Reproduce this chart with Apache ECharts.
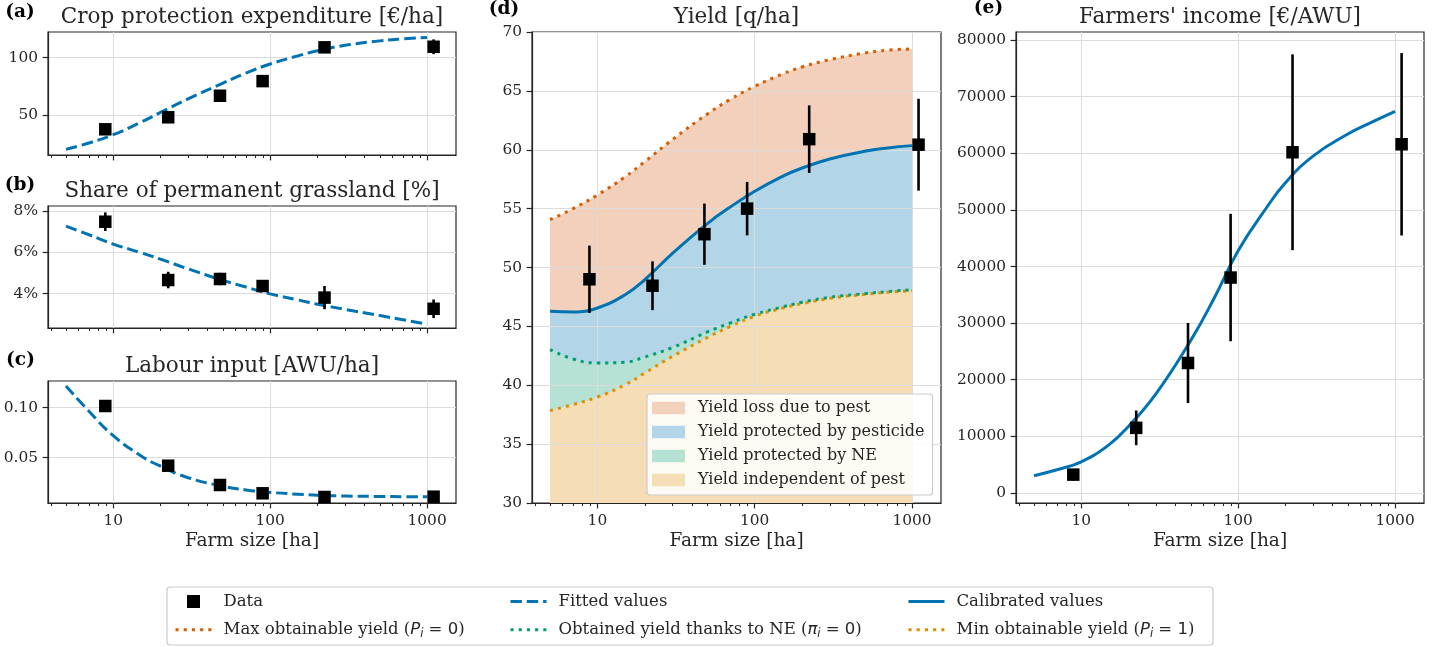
<!DOCTYPE html>
<html>
<head>
<meta charset="utf-8">
<script src="https://cdn.jsdelivr.net/npm/echarts@6/dist/echarts.min.js"></script>
<style>html,body{margin:0;padding:0;background:#fff}#c{width:1451px;height:647px}</style>
</head>
<body>
<div id="c"></div>
<script>
// ---------------- data ----------------
const farmSizes = [8.9, 22.4, 47.9, 89.5, 222, 1100];
const curveX = [5, 7, 10, 15, 20, 30, 50, 70, 100, 150, 200, 300, 500, 700, 1000];

const cropData = [37.9, 48.3, 67, 79.7, 109, 109.5];
const cropErr = [2.5, 2.5, 3, 3, 2.5, 6.4];
const cropFit = [20.5, 26.0, 33.2, 44.0, 52.5, 64.3, 78.0, 86.6, 94.5, 101.6, 106.0, 110.8, 114.6, 116.3, 117.6];

const grassData = [7.48, 4.66, 4.71, 4.37, 3.81, 3.27];
const grassErr = [0.45, 0.4, 0.3, 0.15, 0.56, 0.45];
const grassFit = [7.27, 6.85, 6.40, 5.98, 5.67, 5.2, 4.64, 4.32, 3.99, 3.70, 3.49, 3.24, 2.94, 2.74, 2.53];

const labourData = [0.1017, 0.042, 0.0227, 0.0144, 0.0107, 0.011];
const labourErr = [0.002, 0.002, 0.002, 0.001, 0.001, 0.001];
const labourFit = [0.1217, 0.0965, 0.0720, 0.0520, 0.0415, 0.0300, 0.0215, 0.0178, 0.0153, 0.0135, 0.0125, 0.0117, 0.0112, 0.0110, 0.0109];

const yieldData = [49.0, 48.45, 52.83, 55.0, 60.9, 60.43];
const yieldErr = [2.86, 2.07, 2.6, 2.27, 2.87, 3.9];
const yieldMax = [54.06, 55.0, 56.16, 57.7, 58.99, 60.86, 63.04, 64.28, 65.39, 66.43, 67.03, 67.65, 68.22, 68.46, 68.56];
const yieldCal = [46.28, 46.22, 46.56, 47.69, 48.96, 51.2, 53.73, 55.14, 56.47, 57.74, 58.45, 59.22, 59.87, 60.15, 60.35];
const yieldNE = [43.03, 42.23, 41.89, 41.95, 42.4, 43.2, 44.53, 45.29, 46.03, 46.65, 47.05, 47.47, 47.78, 47.95, 48.12];
const yieldMin = [37.85, 38.36, 39.0, 40.05, 41.04, 42.45, 44.05, 45.0, 45.86, 46.55, 46.93, 47.38, 47.72, 47.9, 48.04];

const incomeData = [3240, 11500, 22960, 38050, 60180, 61590];
const incomeErr = [1000, 3060, 7070, 11250, 17290, 16110];
const incomeCal = [3050, 4100, 5500, 8500, 11750, 17560, 27000, 34300, 42800, 50200, 54800, 59500, 63400, 65400, 67400];

const xMajorTicks = [10, 100, 1000];
const xMinorTicks = [4, 5, 6, 7, 8, 9, 20, 30, 40, 50, 60, 70, 80, 90, 200, 300, 400, 500, 600, 700, 800, 900];
const cropTicks = [50, 100];
const grassTicks = [4, 6, 8];
const labourTicks = [0.05, 0.10];
const yieldTicks = [30, 35, 40, 45, 50, 55, 60, 65, 70];
const incomeTicks = [0, 10000, 20000, 30000, 40000, 50000, 60000, 70000, 80000];

const panelTitles = ['Crop protection expenditure [€/ha]', 'Share of permanent grassland [%]', 'Labour input [AWU/ha]', 'Yield [q/ha]', "Farmers' income [€/AWU]"];
const panelLetters = ['(a)', '(b)', '(c)', '(d)', '(e)'];
const xLabel = 'Farm size [ha]';
const yieldAreaNames = ['Yield loss due to pest', 'Yield protected by pesticide', 'Yield protected by NE', 'Yield independent of pest'];
const NAME_MAX = 'Max obtainable yield (P_i = 0)';
const NAME_NE = 'Obtained yield thanks to NE (π_i = 0)';
const NAME_MIN = 'Min obtainable yield (P_i = 1)';

// ---------------- style ----------------
const FONT = 'DejaVu Serif';
const INK = '#262626';
const GRIDC = '#dcdcdc';
const BLUE = '#0173b2';
const RED = '#d55e00';
const GREEN = '#029e73';
const YEL = '#de8f05';
const F_RED = '#f2d0bc', F_BLUE = '#b3d5e8', F_GREEN = '#b6e2d5', F_YEL = '#f5deb6';
const XMIN = 3.84, XMAX = 1528;
const SMOOTH = 0.45;

const grids = [
  {left: 48, top: 32, width: 408, height: 123},
  {left: 48, top: 206, width: 408, height: 122},
  {left: 48, top: 381, width: 408, height: 122},
  {left: 532, top: 32, width: 409, height: 471},
  {left: 1016, top: 32, width: 408, height: 471}
].map(g => Object.assign({show: true, borderColor: INK, borderWidth: 1.2, backgroundColor: 'transparent', containLabel: false, outerBoundsMode: 'none'}, g));

const yRanges = [[15.6, 122.3], [2.34, 8.24], [0.0047, 0.1267], [30, 70], [-1770, 81420]];
const yTickSets = [cropTicks, grassTicks, labourTicks, yieldTicks, incomeTicks];
const yFormatters = [v => String(v), v => v + '%', v => v.toFixed(2), v => String(v), v => String(v)];

const tickFont = {fontFamily: FONT, fontSize: 15.4, color: INK};

const xAxes = [];
for (let i = 0; i < 5; i++) {
  xAxes.push({
    type: 'log', logBase: 10, gridIndex: i, min: XMIN, max: XMAX, position: 'bottom', z: 2,
    axisLine: {show: true, onZero: false, lineStyle: {color: INK, width: 1.2}},
    axisTick: {show: true, inside: false, length: 5.4, customValues: xMajorTicks, lineStyle: {color: INK, width: 1.2}},
    axisLabel: Object.assign({show: i >= 2, customValues: xMajorTicks, margin: 10, formatter: v => String(Math.round(v))}, tickFont),
    splitLine: {show: true, lineStyle: {color: GRIDC, width: 1}},
    minorTick: {show: false}, minorSplitLine: {show: false}
  });
  xAxes.push({
    type: 'log', logBase: 10, gridIndex: i, min: XMIN, max: XMAX, position: 'bottom', z: 2,
    axisLine: {show: false, onZero: false},
    axisTick: {show: true, inside: false, length: 3, customValues: xMinorTicks, lineStyle: {color: INK, width: 1}},
    axisLabel: {show: false},
    splitLine: {show: false}
  });
}

const yAxes = [];
for (let i = 0; i < 5; i++) {
  yAxes.push({
    type: 'value', gridIndex: i, min: yRanges[i][0], max: yRanges[i][1], z: 2,
    axisLine: {show: true, onZero: false, lineStyle: {color: INK, width: 1.2}},
    axisTick: {show: true, inside: false, length: 5.4, customValues: yTickSets[i], lineStyle: {color: INK, width: 1.2}},
    axisLabel: Object.assign({customValues: yTickSets[i], margin: 10, formatter: yFormatters[i]}, tickFont),
    splitLine: {show: true, lineStyle: {color: GRIDC, width: 1}}
  });
}

const pairs = (xs, ys) => xs.map((x, i) => [x, ys[i]]);
const DASH = [11.4, 4.9];
const DOT = [3.1, 5.1];

function lineSeries(name, panel, xs, ys, color, type, z) {
  return {
    type: 'line', name, xAxisIndex: panel * 2, yAxisIndex: panel,
    data: pairs(xs, ys), smooth: SMOOTH,
    showSymbol: false, symbol: 'none', silent: true, z: z || 3,
    color, itemStyle: {color},
    lineStyle: {color, width: 3, type, cap: 'butt'}
  };
}
function fillSeries(name, panel, xs, ys, color) {
  return {
    type: 'line', name, xAxisIndex: panel * 2, yAxisIndex: panel,
    data: pairs(xs, ys), smooth: SMOOTH,
    showSymbol: false, symbol: 'none', silent: true, z: 1,
    color, itemStyle: {color},
    lineStyle: {width: 0, color},
    areaStyle: {color, opacity: 1, origin: 'start'}
  };
}
function errSeries(panel, ys, es) {
  return {
    type: 'custom', xAxisIndex: panel * 2, yAxisIndex: panel, silent: true, z: 4,
    data: farmSizes.map((x, i) => [x, ys[i] - es[i], ys[i] + es[i]]),
    encode: {x: 0, y: [1, 2]},
    renderItem: (params, api) => {
      const p1 = api.coord([api.value(0), api.value(1)]);
      const p2 = api.coord([api.value(0), api.value(2)]);
      return {type: 'line', shape: {x1: p1[0], y1: p1[1], x2: p2[0], y2: p2[1]}, style: {stroke: '#000', lineWidth: 2.6}};
    }
  };
}
function dataSeries(panel, ys) {
  return {
    type: 'scatter', name: 'Data', xAxisIndex: panel * 2, yAxisIndex: panel,
    data: pairs(farmSizes, ys), symbol: 'rect', symbolSize: 12.5, silent: true, z: 5,
    color: '#000', itemStyle: {color: '#000', opacity: 1}
  };
}

const series = [
  lineSeries('Fitted values', 0, curveX, cropFit, BLUE, DASH),
  errSeries(0, cropData, cropErr), dataSeries(0, cropData),
  lineSeries('Fitted values', 1, curveX, grassFit, BLUE, DASH),
  errSeries(1, grassData, grassErr), dataSeries(1, grassData),
  lineSeries('Fitted values', 2, curveX, labourFit, BLUE, DASH),
  errSeries(2, labourData, labourErr), dataSeries(2, labourData),

  fillSeries(yieldAreaNames[0], 3, curveX, yieldMax, F_RED),
  fillSeries(yieldAreaNames[1], 3, curveX, yieldCal, F_BLUE),
  fillSeries(yieldAreaNames[2], 3, curveX, yieldNE, F_GREEN),
  fillSeries(yieldAreaNames[3], 3, curveX, yieldMin, F_YEL),
  lineSeries(NAME_MIN, 3, curveX, yieldMin, YEL, DOT, 3),
  lineSeries(NAME_NE, 3, curveX, yieldNE, GREEN, DOT, 3),
  lineSeries(NAME_MAX, 3, curveX, yieldMax, RED, DOT, 3),
  lineSeries('Calibrated values', 3, curveX, yieldCal, BLUE, 'solid', 3),
  errSeries(3, yieldData, yieldErr), dataSeries(3, yieldData),

  lineSeries('Calibrated values', 4, curveX, incomeCal, BLUE, 'solid', 3),
  errSeries(4, incomeData, incomeErr), dataSeries(4, incomeData)
];

// ---------------- legends ----------------
function legendFmt(name) {
  const m = name.match(/^(.*\()(P|π)_i = (\d)\)$/);
  if (!m) return name;
  return m[1] + '{m|' + m[2] + '}{s|i}{e| = ' + m[3] + '})';
}
const legRich = {
  m: {fontFamily: 'DejaVu Sans', fontStyle: 'italic', fontSize: 16.5, color: INK},
  s: {fontFamily: 'DejaVu Sans', fontStyle: 'italic', fontSize: 11.5, color: INK, lineHeight: 10, padding: [8, 0, 0, 0]},
  e: {fontFamily: 'DejaVu Sans', fontSize: 16.5, color: INK}
};
const HIDE_SYMBOL = {color: 'rgba(0,0,0,0)', borderWidth: 0, opacity: 0};
function bottomLegend(left, names) {
  return {
    orient: 'vertical', left, top: 592.5, padding: 0, itemWidth: 36, itemHeight: 13, itemGap: 9.3,
    selectedMode: false, z: 10,
    lineStyle: {width: 3},
    formatter: legendFmt,
    textStyle: {fontFamily: FONT, fontSize: 16.5, color: INK, lineHeight: 18, padding: [0, 0, 0, 7], rich: legRich},
    data: names.map(n => n === 'Data'
      ? {name: n, icon: 'path://M0,0L10,0L10,10L0,10Z', itemStyle: {color: '#000', borderWidth: 0, opacity: 1}}
      : {name: n, itemStyle: HIDE_SYMBOL})
  };
}
const legends = [
  {
    orient: 'vertical', left: 647, top: 394, padding: [6, 8, 7, 5], itemWidth: 33, itemHeight: 12.7, itemGap: 8,
    selectedMode: false, z: 10,
    backgroundColor: 'rgba(255,255,255,0.85)', borderColor: '#cccccc', borderWidth: 1.2, borderRadius: 3,
    icon: 'rect',
    textStyle: {fontFamily: FONT, fontSize: 16, color: INK, lineHeight: 16, padding: [0, 0, 0, 8]},
    data: [
      {name: yieldAreaNames[0], itemStyle: {color: F_RED, borderWidth: 0}},
      {name: yieldAreaNames[1], itemStyle: {color: F_BLUE, borderWidth: 0}},
      {name: yieldAreaNames[2], itemStyle: {color: F_GREEN, borderWidth: 0}},
      {name: yieldAreaNames[3], itemStyle: {color: F_YEL, borderWidth: 0}}
    ]
  },
  bottomLegend(174, ['Data', NAME_MAX]),
  bottomLegend(509, ['Fitted values', NAME_NE]),
  bottomLegend(907, ['Calibrated values', NAME_MIN])
];

// ---------------- text graphics ----------------
const titlePos = [[252, 17.5], [252, 191], [252, 366], [736.5, 17.5], [1220, 17.5]];
const letterPos = [[20, 12], [20, 185], [20.5, 360], [504, 9.5], [988.5, 8.5]];
const xLabelPos = [[252, 541], [736.5, 541], [1220, 541]];
const graphics = [];
graphics.push({type: 'rect', z: 0, shape: {x: 167, y: 587, width: 1046, height: 58, r: 3}, style: {fill: '#fff', stroke: '#cccccc', lineWidth: 1.2}});
panelTitles.forEach((t, i) => graphics.push({type: 'text', x: titlePos[i][0], y: titlePos[i][1], z: 10,
  style: {text: t, fontFamily: FONT, fontSize: 21.5, fill: INK, align: 'center', verticalAlign: 'middle'}}));
panelLetters.forEach((t, i) => graphics.push({type: 'text', x: letterPos[i][0], y: letterPos[i][1], z: 10,
  style: {text: t, fontFamily: FONT, fontSize: 18.5, fontWeight: 'bold', fill: '#000', align: 'center', verticalAlign: 'middle'}}));
xLabelPos.forEach(p => graphics.push({type: 'text', x: p[0], y: p[1], z: 10,
  style: {text: xLabel, fontFamily: FONT, fontSize: 18.5, fill: INK, align: 'center', verticalAlign: 'middle'}}));

const chart = echarts.init(document.getElementById('c'), null, {renderer: 'canvas'});
chart.setOption({
  animation: false,
  backgroundColor: '#ffffff',
  textStyle: {fontFamily: FONT},
  grid: grids,
  xAxis: xAxes,
  yAxis: yAxes,
  legend: legends,
  graphic: graphics,
  series
});
</script>
</body>
</html>
